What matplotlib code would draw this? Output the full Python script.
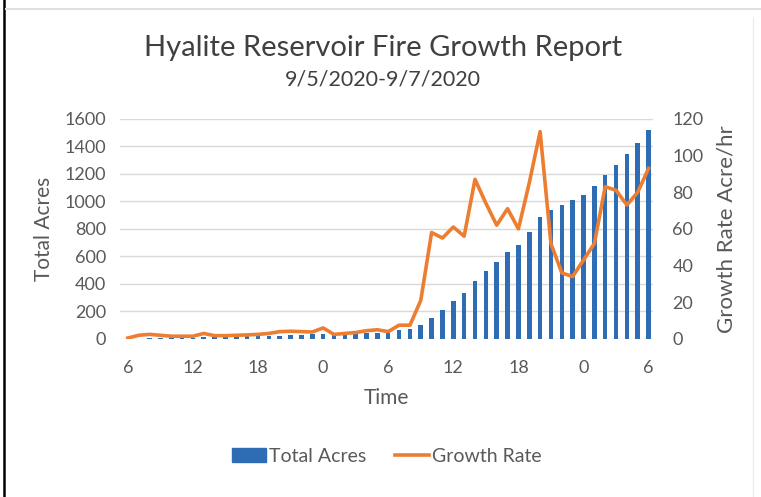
import numpy as np
import matplotlib.pyplot as plt
from matplotlib.lines import Line2D

# hourly readings, 6:00 on 9/5 to 6:00 on 9/7
hour_labels = ['6', '12', '18', '0', '6', '12', '18', '0', '6']

total_acres = [1, 2, 4, 6, 8, 9, 10, 12, 13, 14, 16, 18, 20, 22, 25, 28, 30, 33,
               36, 37, 38, 40, 42, 40, 45, 66, 74, 98, 154, 213, 274, 331, 421,
               495, 556, 630, 686, 777, 887, 939, 973, 1010, 1049, 1108, 1189,
               1267, 1341, 1426, 1515]

growth_rate = [0.5, 2.0, 2.5, 2.0, 1.5, 1.5, 1.5, 3.0, 1.8, 1.8, 2.0, 2.2, 2.5,
               3.0, 4.0, 4.2, 4.0, 3.8, 6.0, 2.5, 3.0, 3.5, 4.5, 5.0, 4.0, 7.5,
               7.5, 21, 58, 55, 61, 56, 87, 74, 62, 71, 60, 85, 113, 52, 36, 34,
               43, 52, 83, 81, 73, 80, 93]


def main():

    plt.rcParams['font.family'] = ['Lato', 'DejaVu Sans']
    grey = '#595959'
    blue = '#2E6DB4'
    orange = '#ED7D31'

    x = np.arange(len(total_acres))

    fig = plt.figure(figsize=(7.61, 4.97), dpi=100)
    ax = fig.add_axes([0.158, 0.318, 0.700, 0.443])

    ax.bar(x, total_acres, width=0.42, color=blue, zorder=2)
    ax.set_ylim(0, 1600)
    ax.set_yticks(np.arange(0, 1601, 200))
    ax.set_xlim(-0.7, 48.4)
    ax.set_xticks(np.arange(0, 49, 6))
    ax.set_xticklabels(hour_labels)
    ax.grid(axis='y', color='#D9D9D9', lw=1, zorder=0)
    ax.tick_params(length=0, colors=grey, labelsize=13, pad=10)
    ax.tick_params(axis='x', pad=15)
    for s in ax.spines.values():
        s.set_visible(False)
    ax.set_ylabel('Total Acres', color=grey, fontsize=15, labelpad=8)
    ax.set_xlabel('Time', color=grey, fontsize=15, labelpad=9)

    ax2 = ax.twinx()
    ax2.plot(x, growth_rate, color=orange, lw=2.6, zorder=3)
    ax2.set_ylim(0, 120)
    ax2.set_yticks(np.arange(0, 121, 20))
    ax2.tick_params(length=0, colors=grey, labelsize=13, pad=14)
    for s in ax2.spines.values():
        s.set_visible(False)
    ax2.set_ylabel('Growth Rate Acre/hr', color=grey, fontsize=16, labelpad=9)

    fig.text(0.503, 0.903, 'Hyalite Reservoir Fire Growth Report', ha='center',
             va='center', fontsize=21, color='#404040')
    fig.text(0.503, 0.840, '9/5/2020-9/7/2020', ha='center', va='center',
             fontsize=15.5, color='#404040')

    handles = [plt.Rectangle((0, 0), 1, 1, color=blue),
               Line2D([0], [0], color=orange, lw=2.6)]
    fig.legend(handles, ['Total Acres', 'Growth Rate'], loc='center',
               bbox_to_anchor=(0.508, 0.082), ncol=2, frameon=False,
               fontsize=14, labelcolor=grey, handlelength=1.75,
               handletextpad=0.15, columnspacing=1.5)

    # screenshot frame
    fig.add_artist(Line2D([0.005, 0.005], [0, 1], color='black', lw=1.8))
    fig.add_artist(Line2D([0.008, 1], [0.981, 0.981], color='#E0E0E0', lw=1.5))
    fig.add_artist(Line2D([0.989, 0.989], [0, 0.965], color='#EDEDED', lw=1))

    fig.savefig('out.png', dpi=100)


if __name__ == "__main__":
    main()
